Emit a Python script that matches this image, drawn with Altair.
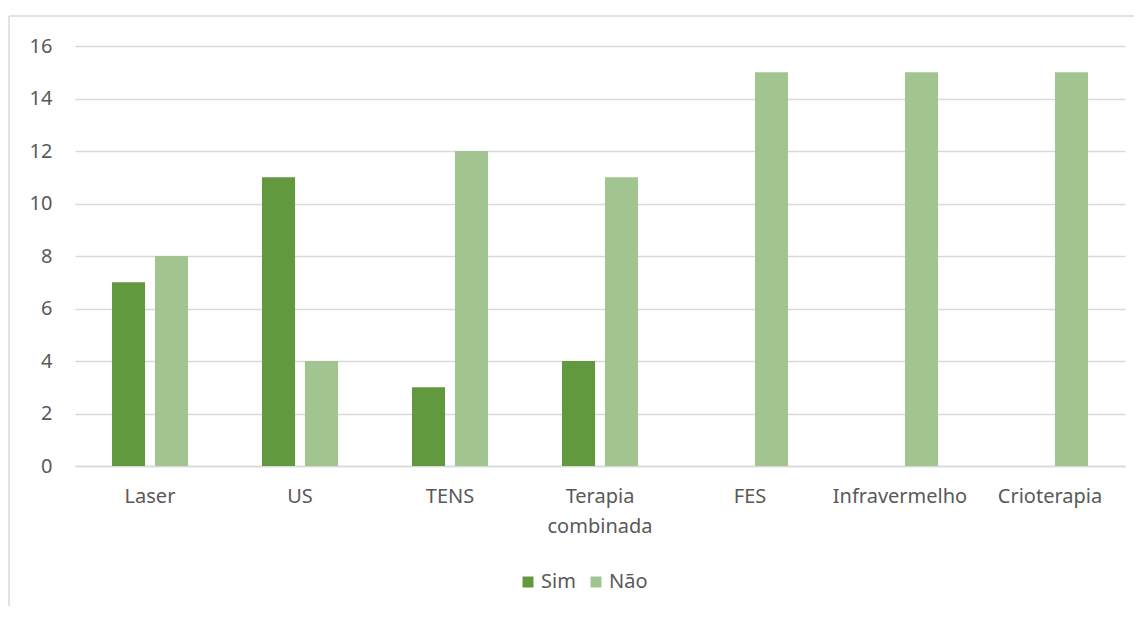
import altair as alt
import pandas as pd

categories = ["Laser", "US", "TENS", "Terapia combinada", "FES", "Infravermelho", "Crioterapia"]
sim = [7, 11, 3, 4, 0, 0, 0]
nao = [8, 4, 12, 11, 15, 15, 15]
series = ["Sim", "Não"]
colors = ["#62993e", "#a2c490"]

rows = []
for c, s, n in zip(categories, sim, nao):
    rows.append({"cat": c, "serie": "Sim", "valor": s})
    rows.append({"cat": c, "serie": "Não", "valor": n})
df = pd.DataFrame(rows)

font = "Noto Sans"
label_color = "#595959"
fs = 20

bars = alt.Chart(df).mark_bar().encode(
    x=alt.X("cat:N", sort=categories, title=None,
            scale=alt.Scale(paddingInner=0.493, paddingOuter=0.2465),
            axis=alt.Axis(labelAngle=0, labelExpr="split(datum.label, ' ')",
                          labelFont=font, labelFontSize=fs, labelColor=label_color,
                          labelPadding=20, labelLineHeight=30, ticks=False,
                          domainColor="#d9d9d9", domainWidth=1.5, grid=False)),
    xOffset=alt.XOffset("serie:N", sort=series,
                        scale=alt.Scale(paddingInner=0.23, paddingOuter=0)),
    y=alt.Y("valor:Q", title=None,
            scale=alt.Scale(domain=[0, 16], nice=False),
            axis=alt.Axis(values=[0, 2, 4, 6, 8, 10, 12, 14, 16], domain=False, ticks=False,
                          labelFont=font, labelFontSize=fs, labelColor=label_color,
                          labelPadding=23, gridColor="#d9d9d9", gridWidth=1.5)),
    color=alt.Color("serie:N", sort=series,
                    scale=alt.Scale(domain=series, range=colors),
                    legend=alt.Legend(title=None, orient="none", direction="horizontal",
                                      legendX=443, legendY=526,
                                      symbolType="square", symbolSize=121,
                                      symbolStrokeWidth=0,
                                      labelFont=font, labelFontSize=fs,
                                      labelColor=label_color, columnPadding=10,
                                      labelOffset=3)),
)

border_left = alt.Chart(pd.DataFrame({"a": [0]})).mark_rule(color="#d9d9d9", strokeWidth=1.5, clip=False).encode(
    x=alt.value(-66), y=alt.value(-30), y2=alt.value(620))
border_top = alt.Chart(pd.DataFrame({"a": [0]})).mark_rule(color="#d9d9d9", strokeWidth=1.5, clip=False).encode(
    x=alt.value(-66), x2=alt.value(1080), y=alt.value(-30))

chart = alt.layer(bars, border_left, border_top).properties(
    width=1050, height=420,
    padding={"left": 67, "top": 38, "right": 9, "bottom": 140},
    autosize=alt.AutoSizeParams(type="none"),
).configure_view(stroke=None)

chart.save("out.html", embed_options={"renderer": "svg", "actions": False})
